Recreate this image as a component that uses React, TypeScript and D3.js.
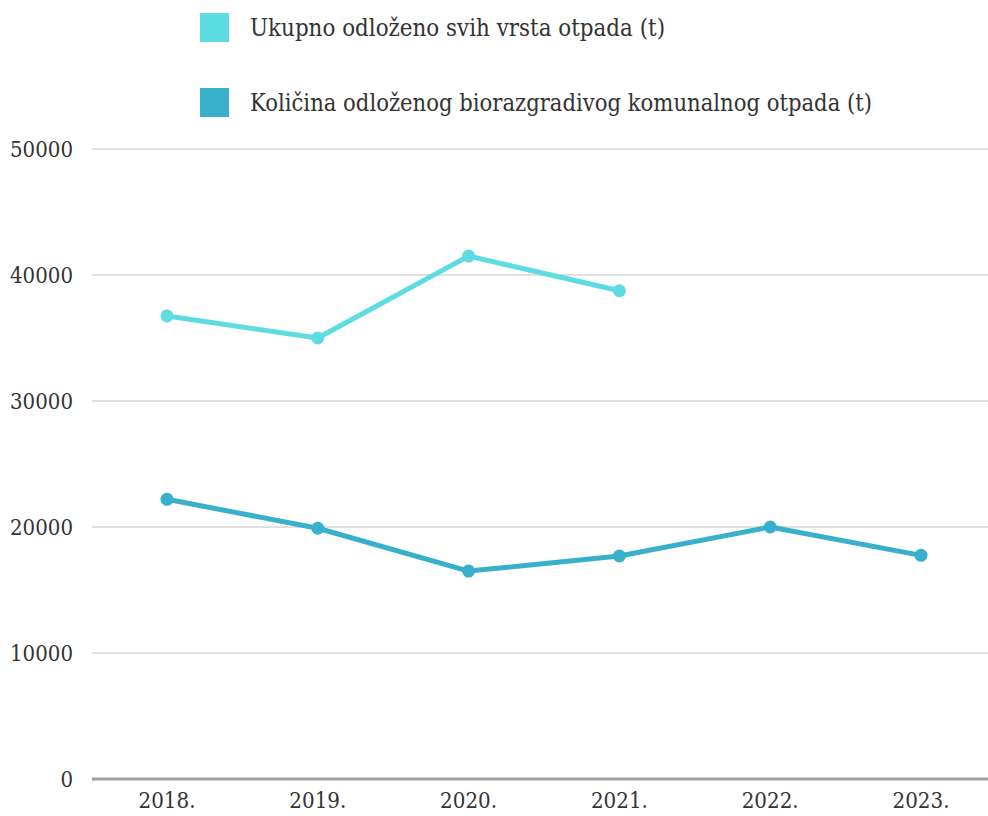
import React from "react";
import * as d3 from "d3";

const years = ["2018.", "2019.", "2020.", "2021.", "2022.", "2023."];
const ukupno: (number | null)[] = [36750, 35000, 41500, 38750, null, null];
const biorazgradivi: (number | null)[] = [22200, 19900, 16500, 17700, 20000, 17750];
const yTicks = [0, 10000, 20000, 30000, 40000, 50000];
const seriesNames = [
  "Ukupno odloženo svih vrsta otpada (t)",
  "Količina odloženog biorazgradivog komunalnog otpada (t)",
];
const seriesColors = ["#5ddce2", "#39b0cb"];

export default function App() {
  const W = 988, H = 816;
  const left = 92, right = 988;
  const x = d3.scalePoint<string>().domain(years).range([167, 921]);
  const y = d3.scaleLinear().domain([0, 50000]).range([779, 149]);
  const font = "DejaVu Serif";
  const series = [ukupno, biorazgradivi];
  const legendWidths = [415, 622];
  const line = d3
    .line<number | null>()
    .defined((d) => d != null)
    .x((_, i) => x(years[i]) as number)
    .y((d) => y(d as number));

  return (
    <svg width={W} height={H} style={{ position: "absolute", left: 0, top: 0, background: "#fff" }}>
      {yTicks.map((t) => (
        <g key={t}>
          <line
            x1={left}
            x2={right}
            y1={y(t)}
            y2={y(t)}
            stroke={t === 0 ? "#a0a0a0" : "#d6d6d6"}
            strokeWidth={t === 0 ? 3 : 1.5}
          />
          <text x={73} y={y(t) + 8} textAnchor="end" fontFamily={font} fontSize={22} fill="#333"
            textLength={String(t).length * 12.6} lengthAdjust="spacingAndGlyphs">
            {t}
          </text>
        </g>
      ))}
      {years.map((yr) => (
        <text key={yr} x={x(yr)} y={808} textAnchor="middle" fontFamily={font} fontSize={22} fill="#333"
          textLength={57} lengthAdjust="spacingAndGlyphs">
          {yr}
        </text>
      ))}
      {series.map((s, si) => (
        <g key={si}>
          <path d={line(s) || ""} fill="none" stroke={seriesColors[si]} strokeWidth={5} strokeLinejoin="round" />
          {s.map((v, i) =>
            v == null ? null : (
              <circle key={i} cx={x(years[i])} cy={y(v)} r={6.5} fill={seriesColors[si]} />
            )
          )}
        </g>
      ))}
      {seriesNames.map((n, i) => (
        <g key={n}>
          <rect x={200} y={13 + i * 75} width={29} height={29} fill={seriesColors[i]} />
          <text x={250} y={36 + i * 75} fontFamily={font} fontSize={24} fill="#333"
            textLength={legendWidths[i]} lengthAdjust="spacingAndGlyphs">
            {n}
          </text>
        </g>
      ))}
    </svg>
  );
}
